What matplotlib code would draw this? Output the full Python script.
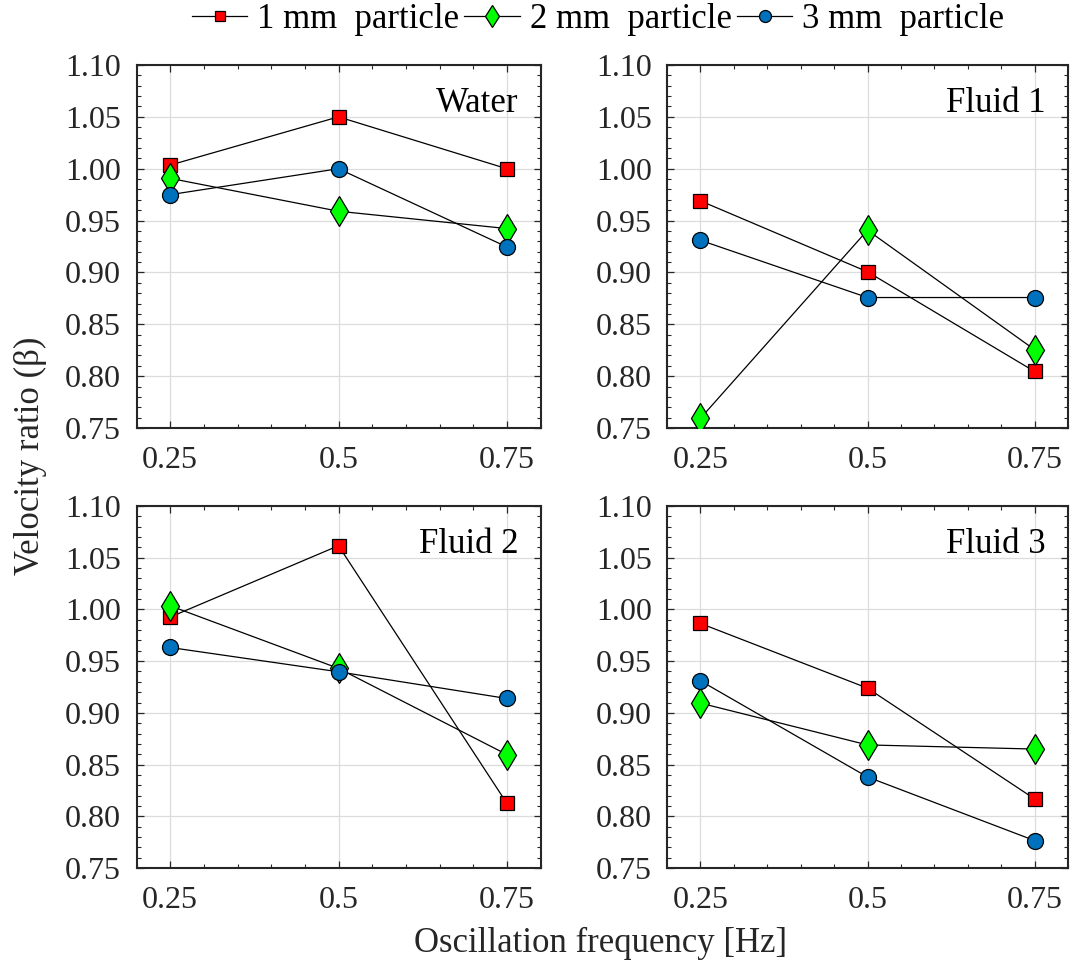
import matplotlib
matplotlib.use("Agg")
import matplotlib.pyplot as plt
from matplotlib.ticker import MultipleLocator

plt.rcParams['font.family'] = ['Liberation Serif', 'DejaVu Serif']
plt.rcParams['mathtext.fontset'] = 'stix'

freq = [0.25, 0.5, 0.75]
freq_labels = ['0.25', '0.5', '0.75']
fluids = ['Water', 'Fluid 1', 'Fluid 2', 'Fluid 3']
series_names = ['1 mm  particle', '2 mm  particle', '3 mm  particle']

beta_1mm = {
    'Water':   [1.0035, 1.050, 1.000],
    'Fluid 1': [0.969, 0.9006, 0.8045],
    'Fluid 2': [0.9926, 1.0616, 0.8126],
    'Fluid 3': [0.9865, 0.9239, 0.8168],
}
beta_2mm = {
    'Water':   [0.9907, 0.959, 0.9423],
    'Fluid 1': [0.7593, 0.9407, 0.8255],
    'Fluid 2': [1.0035, 0.943, 0.8597],
    'Fluid 3': [0.9094, 0.869, 0.865],
}
beta_3mm = {
    'Water':   [0.975, 1.000, 0.9246],
    'Fluid 1': [0.931, 0.8758, 0.8758],
    'Fluid 2': [0.9632, 0.9397, 0.9139],
    'Fluid 3': [0.931, 0.838, 0.7765],
}

styles = [
    dict(marker='s', markersize=9.5, markerfacecolor='#FF0000'),
    dict(marker='d', markersize=15, markerfacecolor='#00FF00'),
    dict(marker='o', markersize=11.5, markerfacecolor='#0072BD'),
]

FS = 25
TICK_FS = 23
fig = plt.figure(figsize=(10.7, 9.64), dpi=100)
W, H = 1070, 964
boxes = [
    (136.5, 65, 540.5, 428),
    (667, 65, 1068, 428),
    (136.5, 506, 540.5, 868),
    (667, 506, 1068, 868),
]

handles = []
for name, (x0, y0, x1, y1) in zip(fluids, boxes):
    ax = fig.add_axes([x0 / W, 1 - y1 / H, (x1 - x0) / W, (y1 - y0) / H])
    for k, data in enumerate([beta_1mm, beta_2mm, beta_3mm]):
        h, = ax.plot(freq, data[name], color='black', linewidth=0.9,
                     markeredgecolor='black', markeredgewidth=0.9,
                     zorder=3, label=series_names[k], **styles[k])
        if name == 'Water':
            handles.append(h)
    ax.set_xlim(0.2, 0.8)
    ax.set_ylim(0.75, 1.10)
    ax.set_xticks(freq)
    ax.set_xticklabels(freq_labels)
    yt = [0.75, 0.80, 0.85, 0.90, 0.95, 1.00, 1.05, 1.10]
    ax.set_yticks(yt)
    ax.set_yticklabels(['%.2f' % v for v in yt])
    ax.xaxis.set_minor_locator(MultipleLocator(0.05))
    ax.yaxis.set_minor_locator(MultipleLocator(0.01))
    ax.tick_params(which='both', direction='in', top=True, right=True,
                   color='#262626', labelsize=TICK_FS, labelcolor='#262626')
    ax.tick_params(which='major', length=5, width=0.9)
    ax.tick_params(which='minor', length=3, width=0.8)
    ax.tick_params(axis='y', which='major', pad=11)
    ax.tick_params(axis='x', which='major', pad=13)
    ax.grid(True, which='major', color='#DCDCDC', linewidth=0.9, zorder=0)
    for sp in ax.spines.values():
        sp.set_color('#262626')
        sp.set_linewidth(1.5)
    ax.text(0.945, 0.895, name, transform=ax.transAxes, ha='right', va='center',
            fontsize=FS, color='black')

fig.legend(handles=handles, loc='center', bbox_to_anchor=(598 / W, 1 - 20 / H),
           ncol=3, frameon=False, fontsize=FS, handlelength=1.6,
           handletextpad=0.28, columnspacing=0.15, borderaxespad=0,
           markerscale=0.75)

fig.text(30 / W, 1 - 456 / H, 'Velocity ratio (β)', rotation=90,
         ha='center', va='center', fontsize=FS, color='#262626')
fig.text(601 / W, 1 - 943 / H, 'Oscillation frequency [Hz]',
         ha='center', va='center', fontsize=FS, color='#262626')

fig.savefig('out.png', dpi=100)
